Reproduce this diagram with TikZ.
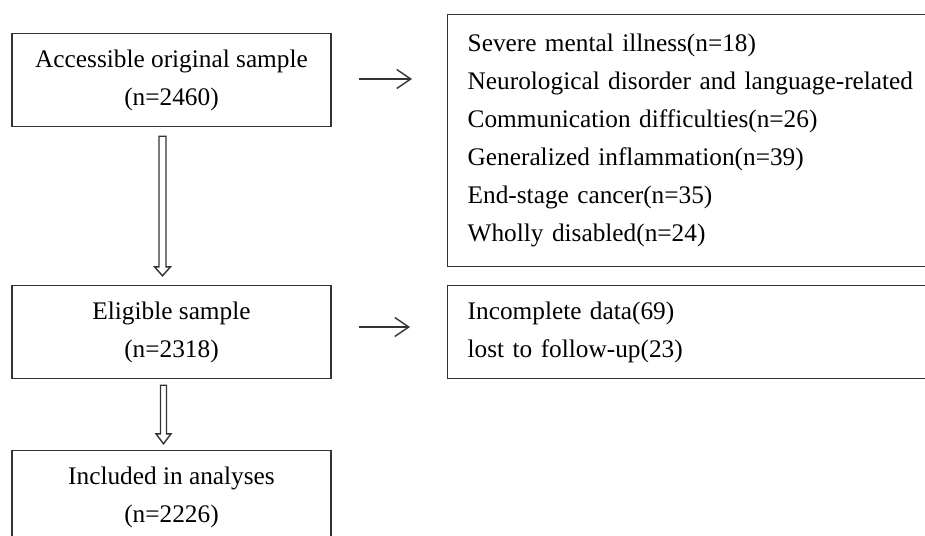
\documentclass[tikz,border=0pt]{standalone}
\usepackage{fontspec}
\setmainfont{Liberation Serif}
\usetikzlibrary{calc,arrows.meta}
\definecolor{edge}{HTML}{333333}
\tikzset{
  box/.style={draw=edge, line width=1.4pt, rectangle, minimum width=319pt, minimum height=93pt,
    align=center, inner sep=0pt, font=\fontsize{25.3}{38}\selectfont},
  sidebox/.style={draw=edge, line width=1.4pt, rectangle, anchor=north west, text width=560pt,
    inner xsep=20pt, inner ysep=0pt, align=left, font=\fontsize{25.3}{38}\selectfont},
  thinarrow/.style={draw=edge, line width=1.4pt, -{Straight Barb[length=14pt,width=19pt,line width=1.4pt]}},
  hollowarrow/.style={draw=edge, line width=1.4pt, fill=white, line join=miter}
}
\begin{document}
\begin{tikzpicture}[x=1pt,y=-1pt]
\useasboundingbox (0,0) rectangle (925,535);
\clip (0,0) rectangle (925,535);
\node[box] (A) at (171.5,80) {Accessible original sample\\(n=2460)};
\node[box] (C) at (171.5,332) {Eligible sample\\(n=2318)};
\node[box] (E) at (171.5,497) {Included in analyses\\(n=2226)};
\node[sidebox, minimum height=252pt] (B) at (447,14) {Severe mental illness(n=18)\\Neurological disorder and language-related\\Communication difficulties(n=26)\\Generalized inflammation(n=39)\\End-stage cancer(n=35)\\Wholly disabled(n=24)};
\node[sidebox, minimum height=93pt] (D) at (447,285) {Incomplete data(69)\\lost to follow-up(23)};
\draw[thinarrow, shorten <=27pt, shorten >=35pt] ($(A.east)+(0,-1)$) -- ($(A.east -| B.west)+(0,-1)$);
\draw[thinarrow, shorten <=27pt, shorten >=37pt] ($(C.east)+(0,-5)$) -- ($(C.east -| D.west)+(0,-5)$);
% hollow double arrows
\coordinate (s1) at ($(A.south)+(-9,9)$);
\coordinate (t1) at ($(C.north)+(-9,-9)$);
\draw[hollowarrow] ($(s1)+(-3.5,0)$) -- ($(t1)+(-3.5,-9)$) -- ($(t1)+(-8,-9)$) -- (t1) -- ($(t1)+(8,-9)$) -- ($(t1)+(3.5,-9)$) -- ($(s1)+(3.5,0)$) -- cycle;
\coordinate (s2) at ($(C.south)+(-8,6)$);
\coordinate (t2) at ($(E.north)+(-8,-6)$);
\draw[hollowarrow] ($(s2)+(-3,0)$) -- ($(t2)+(-3,-10)$) -- ($(t2)+(-7.5,-10)$) -- (t2) -- ($(t2)+(7.5,-10)$) -- ($(t2)+(3,-10)$) -- ($(s2)+(3,0)$) -- cycle;
\end{tikzpicture}
\end{document}
